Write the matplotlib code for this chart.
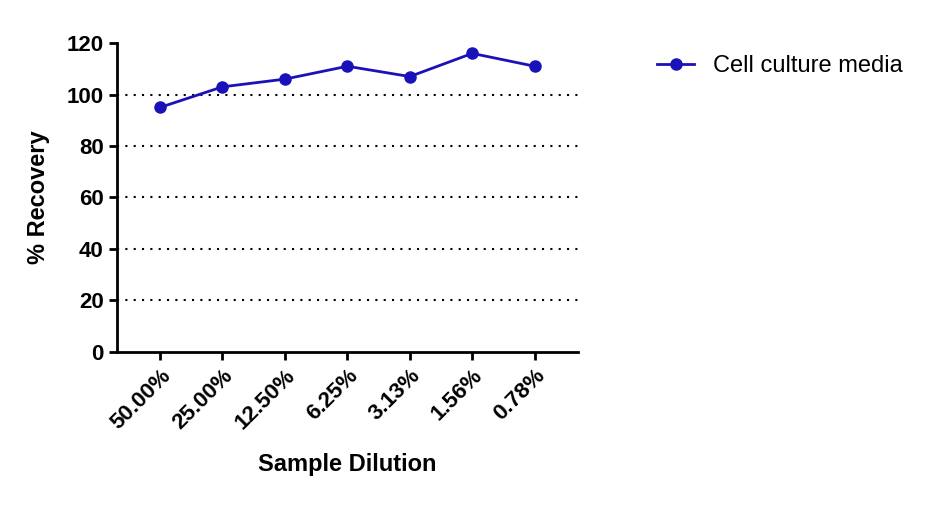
import matplotlib
matplotlib.use("Agg")
import matplotlib.pyplot as plt

categories = ["50.00%", "25.00%", "12.50%", "6.25%", "3.13%", "1.56%", "0.78%"]
recovery = [95, 103, 106, 111, 107, 116, 111]
series_name = "Cell culture media"

plt.rcParams['font.family'] = ['Liberation Sans', 'DejaVu Sans']
fig = plt.figure(figsize=(9.35, 5.07), dpi=100)
ax = fig.add_axes([0.125, 0.306, 0.493, 0.609])
x = list(range(len(categories)))
ax.plot(x, recovery, color='#1a12b8', lw=2, marker='o', ms=8, label=series_name, clip_on=False, zorder=3)
ax.set_xlim(-0.69, 6.69)
ax.set_ylim(0, 120)
ax.set_yticks(range(0, 121, 20))
for y in range(20, 101, 20):
    ax.axhline(y, color='black', ls=(0, (1, 3)), lw=1.5, zorder=1)
ax.set_xticks(x)
ax.set_xticklabels(categories, rotation=45, ha='right', rotation_mode='anchor', fontsize=16, fontweight='bold')
for t in ax.get_yticklabels():
    t.set_fontsize(16); t.set_fontweight('bold')
ax.tick_params(width=2, length=6)
for s in ['top', 'right']:
    ax.spines[s].set_visible(False)
for s in ['left', 'bottom']:
    ax.spines[s].set_linewidth(2)
ax.set_ylabel("% Recovery", fontsize=17, fontweight='bold', labelpad=12)
ax.set_xlabel("Sample Dilution", fontsize=17, fontweight='bold', labelpad=14)
ax.legend(loc='upper left', bbox_to_anchor=(1.125, 1.03), frameon=False, fontsize=17, handlelength=1.6)
fig.savefig("out.png", dpi=100)
